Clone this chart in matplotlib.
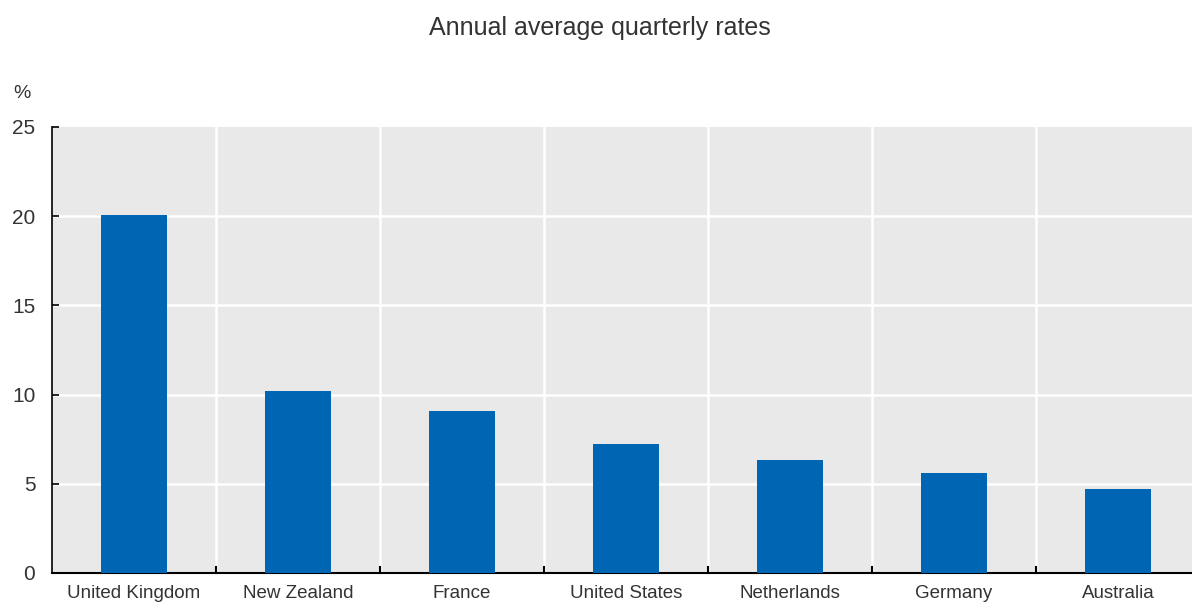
import numpy as np
import matplotlib.pyplot as plt

countries = ["United Kingdom", "New Zealand", "France", "United States",
             "Netherlands", "Germany", "Australia"]
rates = [20.05, 10.2, 9.1, 7.25, 6.35, 5.6, 4.7]
yticks = [0, 5, 10, 15, 20, 25]

plt.rcParams["font.family"] = ["Liberation Sans", "DejaVu Sans"]
text_color = "#333333"

fig = plt.figure(figsize=(11.92, 6.03), dpi=100)
ax = fig.add_axes([0.0436, 0.0498, 0.9631, 0.7396])
ax.set_facecolor("#e9e9e9")

x = np.arange(len(countries))
ax.bar(x, rates, 0.4, color="#0066b3", zorder=3)

ax.set_xlim(-0.5, len(countries) - 0.5)
ax.set_ylim(0, 25)
ax.set_yticks(yticks)
ax.set_yticklabels([str(t) for t in yticks], fontsize=15, color=text_color)
ax.set_xticks(x)
ax.set_xticklabels(countries, fontsize=13.5, color=text_color)
ax.tick_params(axis="x", length=0, pad=9)
ax.tick_params(axis="y", direction="in", length=5, width=1.2, pad=12)

# category boundaries: white gridlines and small ticks on x axis
bounds = np.arange(0.5, len(countries) - 0.5, 1)
for b in bounds:
    ax.axvline(b, color="white", lw=1.8, zorder=1)
    ax.plot([b, b], [0, 0.35], color="black", lw=1.5, zorder=4, clip_on=False)
for t in yticks[1:-1]:
    ax.axhline(t, color="white", lw=1.8, zorder=1)

for side in ["top", "right"]:
    ax.spines[side].set_visible(False)
ax.spines["left"].set_linewidth(1.2)
ax.spines["bottom"].set_linewidth(1.5)

fig.text(0.503, 0.953, "Annual average quarterly rates", ha="center",
         va="center", fontsize=18, color=text_color)
fig.text(0.011, 0.845, "%", ha="left", va="center", fontsize=14,
         color=text_color)

plt.savefig("out.png", dpi=100)
